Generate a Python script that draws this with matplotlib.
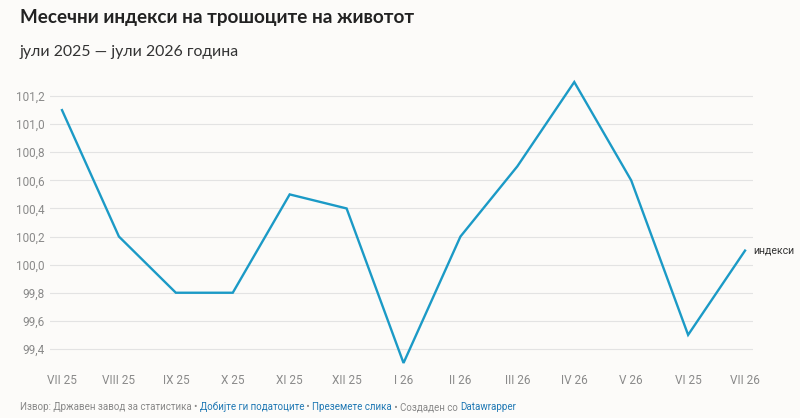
import matplotlib
matplotlib.use("Agg")
import matplotlib.pyplot as plt

# data
months = ["VII 25", "VIII 25", "IX 25", "X 25", "XI 25", "XII 25", "I 26",
          "II 26", "III 26", "IV 26", "V 26", "VI 25", "VII 26"]
index_values = [101.1, 100.2, 99.8, 99.8, 100.5, 100.4, 99.3,
                100.2, 100.7, 101.3, 100.6, 99.5, 100.1]
y_ticks = [99.4, 99.6, 99.8, 100.0, 100.2, 100.4, 100.6, 100.8, 101.0, 101.2]

bg = "#fcfbf9"
line_color = "#1b9ac6"
W, H = 800, 418

fig = plt.figure(figsize=(W / 100, H / 100), dpi=100, facecolor=bg)
# axes in pixel coords: x 50..753, y 75..370 (from top)
ax = fig.add_axes([50 / W, 1 - 370 / H, 703 / W, 295 / H], facecolor=bg)

x = list(range(len(months)))
ax.plot(x, index_values, color=line_color, lw=1.7, solid_joinstyle="miter")
ax.set_xlim(-0.211, 12.14)
ax.set_ylim(99.25, 101.35)

ax.set_yticks(y_ticks)
ax.set_yticklabels([f"{v:.1f}".replace(".", ",") for v in y_ticks],
                   fontsize=8.5, color="#8a8a8a", family="Roboto")
ax.set_xticks(x)
ax.set_xticklabels(months, fontsize=8.5, color="#8a8a8a", family="Roboto")
ax.tick_params(axis="y", length=0, pad=4)
ax.tick_params(axis="x", length=0, pad=3)
ax.grid(axis="y", color="#e3e3e3", lw=0.8)
ax.set_axisbelow(True)
for s in ax.spines.values():
    s.set_visible(False)

ax.annotate("индекси", (x[-1], index_values[-1]), xytext=(6, 0),
            textcoords="offset points", va="center", ha="left",
            fontsize=7.6, color="#333333", family="Roboto")

fig.text(20 / W, 1 - 17 / H, "Месечни индекси на трошоците на животот",
         fontsize=13.6, fontweight="bold", color="#222222", family="Lato",
         va="center", ha="left")
fig.text(20 / W, 1 - 52 / H, "јули 2025 — јули 2026 година",
         fontsize=11.4, color="#333333", family="Lato", va="center", ha="left")

# footer with mixed colours
parts = [("Извор: Државен завод за статистика • ", "#888888"),
         ("Добијте ги податоците", "#1f78b4"),
         (" • ", "#888888"),
         ("Преземете слика", "#1f78b4"),
         (" • Создаден со ", "#888888"),
         ("Datawrapper", "#1f78b4")]
renderer = fig.canvas.get_renderer()
px = 20
for txt, col in parts:
    t = fig.text(px / W, 1 - 407 / H, txt, fontsize=7.0, color=col,
                 family="Roboto", va="center", ha="left")
    px += t.get_window_extent(renderer).width

fig.savefig("out.png", dpi=100, facecolor=bg)
